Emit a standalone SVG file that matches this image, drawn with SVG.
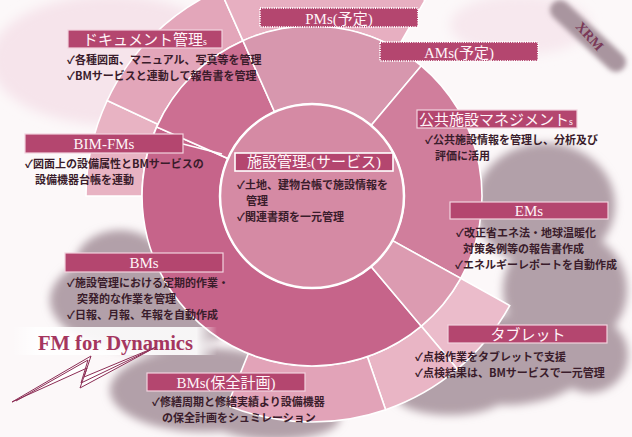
<svg xmlns="http://www.w3.org/2000/svg" width="632" height="437" viewBox="0 0 632 437">
<defs>
<style>
.box{fill:#b4466f;stroke:#f2d2de;stroke-width:1.2}
.dot{fill:#b4466f;stroke:#ffffff;stroke-width:2;stroke-dasharray:1 1.3}
.lbl{font-family:"Liberation Serif","Noto Sans CJK JP",serif;font-size:15px;fill:#fff4f8;text-anchor:middle}
.sm{font-size:10px}
.bul{font-family:"Noto Sans CJK JP","DejaVu Sans",sans-serif;font-weight:bold;font-size:11px;fill:#3a1c2b}
.sec{stroke:#ffffff;stroke-width:1.6}
.cloud{fill:#b2a0a9}
</style>
<filter id="soft" x="-20%" y="-20%" width="140%" height="140%"><feGaussianBlur stdDeviation="4"/></filter>
<filter id="soft1" x="-30%" y="-30%" width="160%" height="160%"><feGaussianBlur stdDeviation="2.5"/></filter>
<filter id="soft2" x="-30%" y="-30%" width="160%" height="160%"><feGaussianBlur stdDeviation="6"/></filter>
<linearGradient id="fmband" x1="0" y1="0" x2="1" y2="0">
<stop offset="0" stop-color="#ffffff" stop-opacity="0"/>
<stop offset="0.12" stop-color="#ffffff" stop-opacity="0.9"/>
<stop offset="0.9" stop-color="#ffffff" stop-opacity="0.9"/>
<stop offset="1" stop-color="#ffffff" stop-opacity="0"/>
</linearGradient>
</defs>
<rect width="632" height="437" fill="#fcf8f9"/>
<g id="background">
<ellipse cx="110" cy="60" rx="120" ry="65" fill="#f6e4eb" filter="url(#soft2)"/>
<ellipse cx="520" cy="25" rx="70" ry="30" fill="#f7e8ee" filter="url(#soft2)"/>
<g filter="url(#soft)" class="cloud">
<ellipse cx="150" cy="300" rx="100" ry="52"/>
<ellipse cx="120" cy="265" rx="45" ry="35"/>
<ellipse cx="205" cy="390" rx="95" ry="42"/>
<ellipse cx="275" cy="418" rx="65" ry="22"/>
<ellipse cx="545" cy="205" rx="70" ry="62"/>
<ellipse cx="565" cy="290" rx="62" ry="60"/>
<ellipse cx="505" cy="360" rx="85" ry="45"/>
<ellipse cx="590" cy="355" rx="38" ry="38"/>
<ellipse cx="450" cy="395" rx="55" ry="20"/>
</g>
<path d="M560 10 L616 62" stroke="#a9959f" stroke-width="20" stroke-linecap="round" filter="url(#soft1)"/>
<text x="590" y="41" transform="rotate(48 590 36)" font-family="Liberation Serif,serif" font-weight="bold" font-size="14" fill="#7a3a58" text-anchor="middle">XRM</text>
</g>
<g id="ring">
<path class="sec" fill="#e8b3c3" d="M86,196 A226,226 0 0 1 107.2,100.5 L157.9,124.2 A170,170 0 0 0 142,196 Z"/>
<path class="sec" fill="#e3a6ba" d="M107.2,100.5 A226,226 0 0 1 220.1,-10.5 L242.9,40.7 A170,170 0 0 0 157.9,124.2 Z"/>
<path class="sec" fill="#e7afc1" d="M220.1,-10.5 A226,226 0 0 1 425,0.3 L397,48.8 A170,170 0 0 0 242.9,40.7 Z"/>
<path class="sec" fill="#ebbccb" d="M509.7,305.6 A226,226 0 0 1 457.3,369.1 L421.3,326.2 A170,170 0 0 0 460.7,278.4 Z"/>
<path class="sec" fill="#e9b5c5" d="M457.3,369.1 A226,226 0 0 1 385.6,409.7 L367.4,356.7 A170,170 0 0 0 421.3,326.2 Z"/>
<path class="sec" fill="#e2a3b8" d="M385.6,409.7 A226,226 0 0 1 227.3,405.5 L248.3,353.6 A170,170 0 0 0 367.4,356.7 Z"/>
<path class="sec" fill="#c6648a" d="M421.3,326.2 A170,170 0 0 1 156.7,126.9 L228.0,158.6 A92,92 0 0 0 371.1,266.5 Z"/>
<path class="sec" fill="#cc6f92" d="M156.7,126.9 A170,170 0 0 1 242.9,40.7 L274.6,112.0 A92,92 0 0 0 228.0,158.6 Z"/>
<path class="sec" fill="#d797ae" d="M242.9,40.7 A170,170 0 0 1 421.3,65.8 L371.1,125.5 A92,92 0 0 0 274.6,112.0 Z"/>
<path class="sec" fill="#d07e9c" d="M421.3,65.8 A170,170 0 0 1 460.7,278.4 L392.5,240.6 A92,92 0 0 0 371.1,125.5 Z"/>
<path class="sec" fill="#dc9bb1" d="M460.7,278.4 A170,170 0 0 1 421.3,326.2 L371.1,266.5 A92,92 0 0 0 392.5,240.6 Z"/>
<circle cx="312" cy="196" r="92" fill="#d58aa4" stroke="#ffffff" stroke-width="2.5"/>
</g>
<g id="connectors">
<line x1="183" y1="144" x2="222" y2="154" stroke="#ffffff" stroke-width="1.6"/>
</g>
<g id="fm-for-dynamics">
<rect x="12" y="327" width="205" height="28" fill="url(#fmband)"/>
<text x="38" y="350" font-family="Liberation Serif,serif" font-weight="bold" font-size="20" fill="#a5365f" textLength="155" lengthAdjust="spacingAndGlyphs">FM for Dynamics</text>
</g>
<g id="lightning" fill="none" stroke="#8c2d55" stroke-width="1">
<polygon points="12,402 91,356 84,377 156,347 80,388 87,368" fill="#ffffff"/>
<polyline points="16,401 88,360 81,383 150,350"/>
</g>
<g id="node-document">
<rect class="box" x="68" y="30" width="154" height="18"/>
<text class="lbl" x="145" y="45">ドキュメント管理<tspan class="sm">s</tspan></text>
<text class="bul" x="67" y="64">✓各種図面、マニュアル、写真等を管理</text>
<text class="bul" x="67" y="80">✓BMサービスと連動して報告書を管理</text>
</g>
<g id="node-pms">
<rect class="dot" x="260" y="8" width="158" height="19"/>
<text class="lbl" x="339" y="24" font-size="16">PMs(予定)</text>
</g>
<g id="node-ams">
<rect class="dot" x="380" y="42" width="158" height="19"/>
<text class="lbl" x="459" y="58" font-size="16">AMs(予定)</text>
</g>
<g id="node-public">
<rect class="box" x="417" y="110" width="160" height="18"/>
<text class="lbl" x="496" y="125">公共施設マネジメント<tspan class="sm">s</tspan></text>
<text class="bul" x="425" y="144">✓公共施設情報を管理し、分析及び</text>
<text class="bul" x="435" y="160">評価に活用</text>
</g>
<g id="node-center">
<rect x="235" y="153" width="158" height="18" fill="#b4466f" stroke="#ffffff" stroke-width="1.6"/>
<text class="lbl" x="314" y="167" font-size="14.5">施設管理<tspan class="sm">s</tspan>(サービス)</text>
<text class="bul" x="237" y="189">✓土地、建物台帳で施設情報を</text>
<text class="bul" x="246" y="205">管理</text>
<text class="bul" x="237" y="221">✓関連書類を一元管理</text>
</g>
<g id="node-bimfm">
<rect class="box" x="25" y="134" width="158" height="19"/>
<text class="lbl" x="104" y="149">BIM-FMs</text>
<text class="bul" x="25" y="168">✓図面上の設備属性とBMサービスの</text>
<text class="bul" x="35" y="184">設備機器台帳を連動</text>
</g>
<g id="node-ems">
<rect class="box" x="450" y="202" width="158" height="17"/>
<text class="lbl" x="529" y="216">EMs</text>
<text class="bul" x="456" y="237">✓改正省エネ法・地球温暖化</text>
<text class="bul" x="463" y="253">対策条例等の報告書作成</text>
<text class="bul" x="455" y="269">✓エネルギーレポートを自動作成</text>
</g>
<g id="node-bms">
<rect class="box" x="65" y="253" width="158" height="19"/>
<text class="lbl" x="144" y="268">BMs</text>
<text class="bul" x="67" y="287">✓施設管理における定期的作業・</text>
<text class="bul" x="77" y="303">突発的な作業を管理</text>
<text class="bul" x="67" y="319">✓日報、月報、年報を自動作成</text>
</g>
<g id="node-tablet">
<rect class="box" x="448" y="325" width="159" height="18"/>
<text class="lbl" x="528" y="340">タブレット</text>
<text class="bul" x="415" y="361">✓点検作業をタブレットで支援</text>
<text class="bul" x="415" y="377">✓点検結果は、BMサービスで一元管理</text>
</g>
<g id="node-bms-plan">
<rect class="box" x="147" y="373" width="158" height="18"/>
<text class="lbl" x="226" y="388">BMs(保全計画)</text>
<text class="bul" x="152" y="406">✓修繕周期と修繕実績より設備機器</text>
<text class="bul" x="162" y="422">の保全計画をシュミレーション</text>
</g>
</svg>
